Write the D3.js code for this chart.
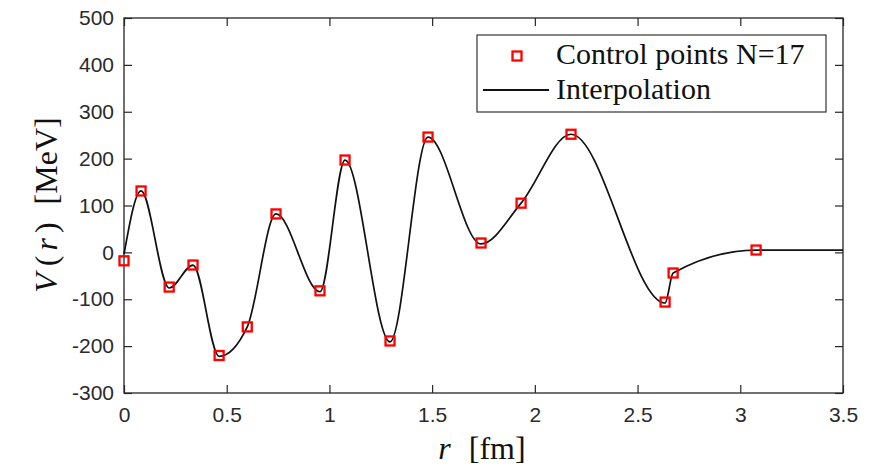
<!DOCTYPE html>
<html>
<head>
<meta charset="utf-8">
<script src="https://cdn.jsdelivr.net/npm/d3@7"></script>
<style>
  html, body { margin: 0; padding: 0; background: #fff; }
  svg { display: block; }
  .serif { font-family: "Liberation Serif", "Tinos", "Noto Serif", "DejaVu Serif", "Times New Roman", Times, serif; }
</style>
</head>
<body>
<svg id="chart" width="872" height="471"></svg>
<script>
// ---- data ----
const controlR = [0, 0.083, 0.22, 0.336, 0.463, 0.6, 0.74, 0.954, 1.076, 1.295, 1.48, 1.738, 1.933, 2.176, 2.634, 2.673, 3.077];
const controlV = [-18, 131, -74, -27, -220, -159, 82, -82, 197, -189, 246, 20, 105, 252, -106, -44, 5];
// interpolation curve knots (start value and flat tail)
const curveR = [0, 0.083, 0.22, 0.336, 0.463, 0.6, 0.74, 0.954, 1.076, 1.295, 1.48, 1.738, 1.933, 2.176, 2.634, 2.673, 3.077, 3.5];
const curveV = [-4, 131, -76, -27, -222, -159, 82, -84, 197, -191, 246, 18, 105, 252, -108, -44, 5, 5];
const xTicks = [0, 0.5, 1, 1.5, 2, 2.5, 3, 3.5];
const xTickLabels = ["0", "0.5", "1", "1.5", "2", "2.5", "3", "3.5"];
const yTicks = [-300, -200, -100, 0, 100, 200, 300, 400, 500];
const yTickLabels = ["-300", "-200", "-100", "0", "100", "200", "300", "400", "500"];
const legendLabels = ["Control points N=17", "Interpolation"];

// ---- layout ----
const svg = d3.select("#chart");
const L = 124, R = 843, T = 18, B = 393;
const x = d3.scaleLinear().domain([0, 3.5]).range([L, R]);
const y = d3.scaleLinear().domain([-300, 500]).range([B, T]);
const axisColor = "#262626";
const tickFont = "'Liberation Sans', Arial, sans-serif";

// axes with inward ticks on all four sides
const tickLen = 8;
const gx = svg.append("g").attr("transform", `translate(0,${B})`)
  .call(d3.axisBottom(x).tickValues(xTicks).tickFormat((d, i) => xTickLabels[i]).tickSizeInner(-tickLen).tickSizeOuter(0).tickPadding(14));
const gxt = svg.append("g").attr("transform", `translate(0,${T})`)
  .call(d3.axisTop(x).tickValues(xTicks).tickFormat("").tickSizeInner(-tickLen).tickSizeOuter(0));
const gy = svg.append("g").attr("transform", `translate(${L},0)`)
  .call(d3.axisLeft(y).tickValues(yTicks).tickFormat((d, i) => yTickLabels[i]).tickSizeInner(-tickLen).tickSizeOuter(0).tickPadding(10));
const gyr = svg.append("g").attr("transform", `translate(${R},0)`)
  .call(d3.axisRight(y).tickValues(yTicks).tickFormat("").tickSizeInner(-tickLen).tickSizeOuter(0));

[gx, gxt, gy, gyr].forEach(g => {
  g.selectAll(".domain").remove();
  g.selectAll("line").attr("stroke", axisColor).attr("stroke-width", 1.2);
  g.selectAll("text").attr("fill", "#2a2a2a").attr("font-family", tickFont).attr("font-size", 21);
});

// box
svg.append("rect").attr("x", L).attr("y", T).attr("width", R - L).attr("height", B - T)
  .attr("fill", "none").attr("stroke", axisColor).attr("stroke-width", 1.3);

// interpolation line
const pts = curveR.map((r, i) => [r, curveV[i]]);
const line = d3.line().x(d => x(d[0])).y(d => y(d[1])).curve(d3.curveMonotoneX);
svg.append("path").datum(pts).attr("d", line)
  .attr("fill", "none").attr("stroke", "#111").attr("stroke-width", 1.7);

// control points
const ms = 9;
svg.append("g").selectAll("rect").data(controlR.map((r, i) => [r, controlV[i]])).join("rect")
  .attr("x", d => x(d[0]) - ms / 2).attr("y", d => y(d[1]) - ms / 2)
  .attr("width", ms).attr("height", ms)
  .attr("fill", "none").attr("stroke", "#ff0000").attr("stroke-width", 2.3);

// axis labels
const xl = svg.append("text").attr("class", "serif").attr("x", 482).attr("y", 459).attr("text-anchor", "middle")
  .attr("font-size", 32).attr("fill", "#111");
xl.append("tspan").attr("font-style", "italic").text("r");
xl.append("tspan").attr("dx", 18).text("[fm]");

const yl = svg.append("text").attr("class", "serif").attr("transform", "translate(57,205) rotate(-90)").attr("text-anchor", "middle")
  .attr("font-size", 32).attr("fill", "#111");
yl.append("tspan").attr("font-style", "italic").text("V");
yl.append("tspan").attr("dx", 7).text("(");
yl.append("tspan").attr("dx", 5).attr("font-style", "italic").text("r");
yl.append("tspan").attr("dx", 5).text(")");
yl.append("tspan").attr("dx", 18).text("[MeV]");

// legend
const lg = svg.append("g");
lg.append("rect").attr("x", 477).attr("y", 35).attr("width", 349).attr("height", 77)
  .attr("fill", "#fff").attr("stroke", "#333").attr("stroke-width", 1.2);
lg.append("rect").attr("x", 517 - ms / 2).attr("y", 56 - ms / 2).attr("width", ms).attr("height", ms)
  .attr("fill", "none").attr("stroke", "#ff0000").attr("stroke-width", 2.3);
lg.append("line").attr("x1", 483).attr("x2", 549).attr("y1", 90).attr("y2", 90)
  .attr("stroke", "#111").attr("stroke-width", 1.8);
lg.selectAll("text.lt").data(legendLabels).join("text").attr("class", "lt serif")
  .attr("x", 556).attr("y", (d, i) => 64 + i * 35)
  .attr("font-size", 30).attr("fill", "#111")
  .text(d => d);
</script>
</body>
</html>
